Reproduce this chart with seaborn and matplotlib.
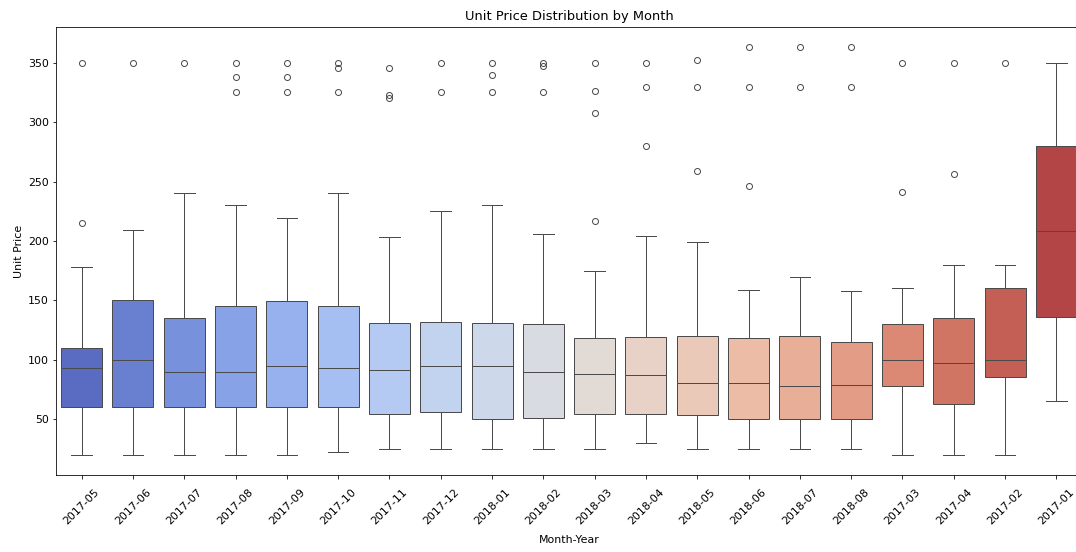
import pandas as pd
import matplotlib
matplotlib.use("Agg")
import matplotlib.pyplot as plt
import seaborn as sns

# Meses na ordem em que aparecem no eixo x
months = ['2017-05', '2017-06', '2017-07', '2017-08', '2017-09', '2017-10',
          '2017-11', '2017-12', '2018-01', '2018-02', '2018-03', '2018-04',
          '2018-05', '2018-06', '2018-07', '2018-08', '2017-03', '2017-04',
          '2017-02', '2017-01']

# Resumo: bigode inferior, Q1, mediana, Q3, bigode superior
whisk_lo = [20, 20, 20, 20, 20, 22, 25, 25, 25, 25, 25, 30, 25, 25, 25, 25, 20, 20, 20, 65]
q1       = [60, 60, 60, 60, 60, 60, 54, 56, 50, 51, 54, 54, 53, 50, 50, 50, 78, 63, 85, 136]
median   = [93, 100, 90, 90, 95, 93, 91, 95, 95, 90, 88, 87, 80, 80, 78, 79, 100, 97, 100, 208]
q3       = [110, 150, 135, 145, 149, 145, 131, 132, 131, 130, 118, 119, 120, 118, 120, 115, 130, 135, 160, 280]
whisk_hi = [178, 209, 240, 230, 219, 240, 203, 225, 230, 206, 175, 204, 199, 159, 170, 158, 160, 180, 180, 350]

# Outliers
outliers = [
    [215, 350],
    [350],
    [350],
    [325, 338, 350],
    [325, 338, 350],
    [325, 346, 350],
    [320, 323, 346],
    [325, 350],
    [325, 340, 350],
    [325, 347, 350],
    [217, 308, 326, 350],
    [280, 330, 350],
    [259, 330, 352],
    [246, 330, 363],
    [330, 363],
    [330, 363],
    [241, 350],
    [256, 350],
    [350],
    [],
]

# Monta uma tabela cujos quartis batem com os valores lidos
rows = []
for i, m in enumerate(months):
    vals = [whisk_lo[i]] + [q1[i]] * 20 + [median[i]] * 20 + [q3[i]] * 20 + [whisk_hi[i]] + outliers[i]
    for v in vals:
        rows.append({'Month-Year': m, 'Unit Price': v})
df = pd.DataFrame(rows)

fig = plt.figure(figsize=(1076 / 72, 552 / 72), dpi=72)
ax = fig.add_axes([56 / 1076, 1 - 475 / 552, 1026 / 1076, (475 - 27) / 552])
sns.boxplot(x='Month-Year', y='Unit Price', data=df, order=months, hue='Month-Year',
            hue_order=months, palette='coolwarm', legend=False, ax=ax)
ax.set_title('Unit Price Distribution by Month', fontsize=13, pad=7)
ax.set_xlabel('Month-Year', fontsize=11, labelpad=9)
ax.set_ylabel('Unit Price', fontsize=11)
ax.tick_params(axis='both', labelsize=11)
ax.tick_params(axis='x', pad=8)
plt.setp(ax.get_xticklabels(), rotation=45)
fig.savefig('out.png', dpi=72)
plt.close()
